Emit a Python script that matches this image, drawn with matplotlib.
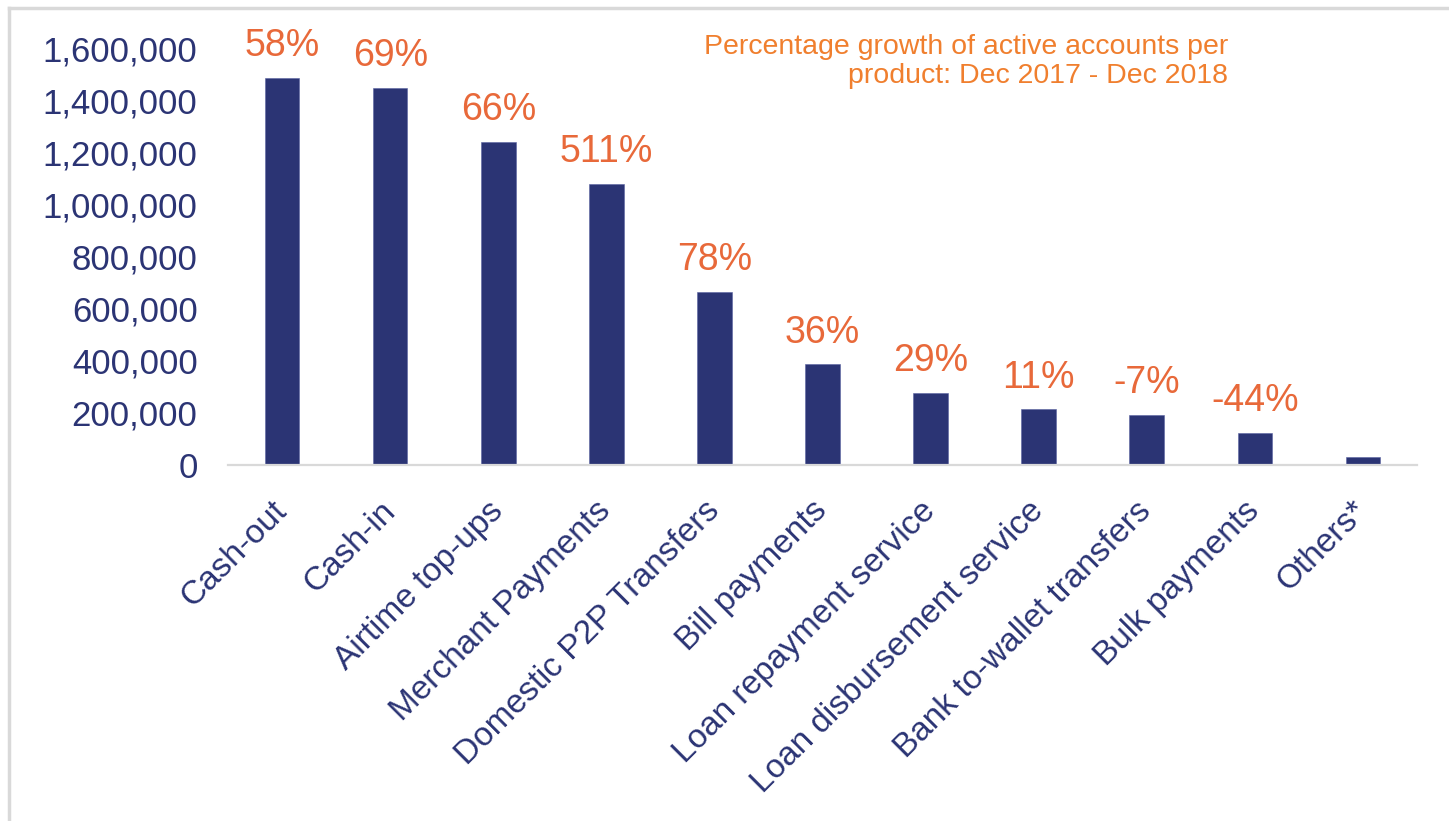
import matplotlib

matplotlib.use("Agg")
import matplotlib.pyplot as plt
from matplotlib.lines import Line2D
from matplotlib.ticker import FuncFormatter

plt.rcParams["font.family"] = ["Liberation Sans", "DejaVu Sans"]

NAVY = "#2b3474"
LABEL_ORANGE = "#e8693a"
NOTE_ORANGE = "#f07f2e"
FRAME_GREY = "#d9d9d9"

products = [
    "Cash-out",
    "Cash-in",
    "Airtime top-ups",
    "Merchant Payments",
    "Domestic P2P Transfers",
    "Bill payments",
    "Loan repayment service",
    "Loan disbursement service",
    "Bank to-wallet transfers",
    "Bulk payments",
    "Others*",
]
active_accounts = [
    1486000, 1450000, 1239000, 1079000, 665000,
    385000, 274000, 212000, 190000, 121000, 30000,
]
growth_pct = [58, 69, 66, 511, 78, 36, 29, 11, -7, -44, None]

fig = plt.figure(figsize=(14.49, 8.21), dpi=100)
ax = fig.add_axes((0.1574, 0.4342, 0.8205, 0.5067))

x = range(len(products))
bars = ax.bar(x, active_accounts, width=0.32, color=NAVY, edgecolor="#5a62a0", linewidth=0.4)

for bar, pct in zip(bars, growth_pct):
    if pct is None:
        continue
    ax.annotate(
        f"{pct}%",
        (bar.get_x() + bar.get_width() / 2, bar.get_height()),
        xytext=(0, 10),
        textcoords="offset points",
        ha="center",
        va="bottom",
        fontsize=27,
        color=LABEL_ORANGE,
    )

ax.set_xlim(-0.5, len(products) - 0.5)
ax.set_ylim(0, 1600000)
ax.set_yticks(range(0, 1600001, 200000))
ax.yaxis.set_major_formatter(FuncFormatter(lambda v, _: f"{int(v):,}"))
ax.set_xticks(list(x))
ax.set_xticklabels(products, rotation=45, ha="right", va="center", rotation_mode="anchor")

ax.tick_params(axis="y", length=0, pad=22, labelsize=25, labelcolor=NAVY)
ax.tick_params(axis="x", length=0, pad=30, labelsize=24, labelcolor=NAVY)

for side in ("top", "right", "left"):
    ax.spines[side].set_visible(False)
ax.spines["bottom"].set_color(FRAME_GREY)
ax.spines["bottom"].set_linewidth(1.6)

fig.text(
    0.8475,
    0.958,
    "Percentage growth of active accounts per\nproduct: Dec 2017 - Dec 2018",
    ha="right",
    va="top",
    multialignment="right",
    fontsize=20.5,
    color=NOTE_ORANGE,
    linespacing=1.15,
)

# outer frame: top and left edges only
fig.add_artist(Line2D([0.0062, 1.0], [0.9903, 0.9903], transform=fig.transFigure,
                      color=FRAME_GREY, linewidth=2.5))
fig.add_artist(Line2D([0.0062, 0.0062], [0.0, 0.9903], transform=fig.transFigure,
                      color=FRAME_GREY, linewidth=2.5))

fig.savefig("out.png", dpi=100)
plt.close(fig)
